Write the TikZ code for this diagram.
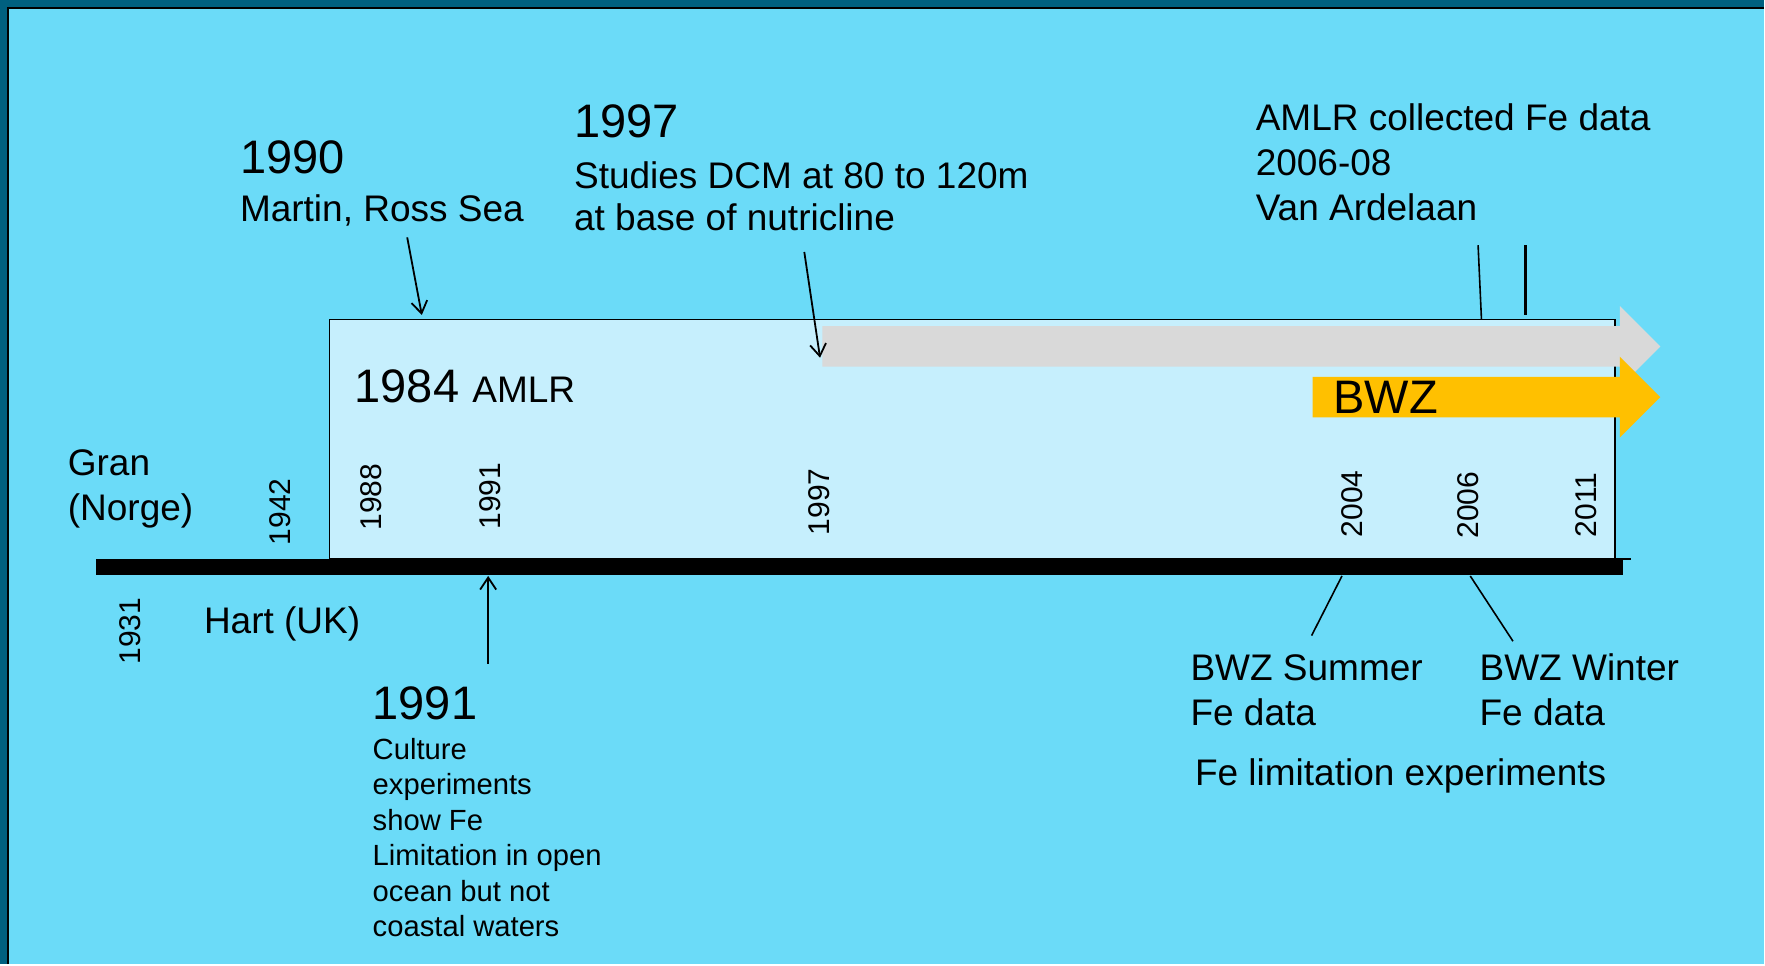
\documentclass[tikz,border=0pt]{standalone}
\usepackage{fontspec}
\setmainfont{Liberation Sans}
\usetikzlibrary{arrows.meta}

\definecolor{framedark}{HTML}{006080}
\definecolor{sky}{HTML}{6BDBF8}
\definecolor{boxblue}{HTML}{C6EFFD}
\definecolor{arrowgray}{HTML}{D9D9D9}
\definecolor{bwzorange}{HTML}{FFC000}

\newcommand{\bigsize}{\fontsize{23.5}{28}\selectfont}
\newcommand{\bodysize}{\fontsize{18.5}{22.5}\selectfont}

\begin{document}
\begin{tikzpicture}[x=0.5625pt, y=-0.5625pt,
    headline/.style={anchor=north west, inner sep=0pt, font=\bigsize},
    body/.style={anchor=north west, inner sep=0pt, align=left, font=\bodysize},
    note/.style={anchor=north west, inner sep=0pt, align=left, font=\fontsize{14.6}{17.7}\selectfont},
    tick/.style={rotate=90, inner sep=0pt, font=\fontsize{15}{18}\selectfont},
    pointer/.style={line width=0.9pt, -{Straight Barb[length=6pt,width=8pt]}},
    leader/.style={line width=0.8pt}]

    % Frame
    \fill[framedark] (0,0) rectangle (1568,857);
    \fill[sky] (7,7) rectangle (1568,857);
    \draw[line width=1.2pt] (7,857) -- (7,7) -- (1568,7);
    \useasboundingbox (0,0) rectangle (1568,857);

    % AMLR period box and timeline
    \filldraw[fill=boxblue, draw=black, line width=0.9pt] (293,284) rectangle (1436,497);
    \draw[line width=0.9pt] (1436,497) -- (1450,497);
    \fill[black] (85,497) rectangle (1443,511);

    % Wide arrows
    \fill[arrowgray] (731,290) -- (1440,290) -- (1440,272) -- (1476,308) -- (1440,344) -- (1440,326) -- (731,326) -- cycle;
    \fill[bwzorange] (1167,335) -- (1440,335) -- (1440,317) -- (1476,353) -- (1440,389) -- (1440,371) -- (1167,371) -- cycle;
    \node[anchor=base west, inner sep=0pt, font=\bigsize] (bwz) at (1185,368) {BWZ};
    \node[anchor=base west, inner sep=0pt, font=\bigsize] (amlr) at (315,358) {1984 {\bodysize AMLR}};

    % Years on the timeline
    \node[tick] (y1931) at (116,561) {1931};
    \node[tick] (y1942) at (249,455) {1942};
    \node[tick] (y1988) at (330,442) {1988};
    \node[tick] (y1991) at (436,441) {1991};
    \node[tick] (y1997) at (728,446) {1997};
    \node[tick] (y2004) at (1202,448) {2004};
    \node[tick] (y2006) at (1305,449) {2006};
    \node[tick] (y2011) at (1410,449) {2011};

    % Labels above
    \node[headline] (h1990) at (213,125) {1990};
    \node[body] (martin) at (213,173) {Martin, Ross Sea};
    \node[headline] (h1997) at (510,93) {1997};
    \node[body, font=\fontsize{18.5}{21.4}\selectfont] (dcm) at (510,143) {Studies DCM at 80 to 120m\\at base of nutricline};
    \node[body] (fedata) at (1116,92) {AMLR collected Fe data\\2006-08\\Van Ardelaan};
    \node[body] (gran) at (60,399) {Gran\\(Norge)};

    % Labels below
    \node[body] (hart) at (181,539) {Hart (UK)};
    \node[headline] (h1991) at (331,610) {1991};
    \node[note] (culture) at (331,656) {Culture\\experiments\\show Fe\\Limitation in open\\ocean but not\\coastal waters};
    \node[body] (summer) at (1058,582) {BWZ Summer\\Fe data};
    \node[body] (winter) at (1315,581) {BWZ Winter\\Fe data};
    \node[body] (felim) at (1062,674) {Fe limitation experiments};

    % Connector ends
    \coordinate (martinfoot) at (362,211);
    \coordinate (boxtop) at (375,280);
    \coordinate (dcmfoot) at (715,224);
    \coordinate (graystart) at (729,318);
    \coordinate (culturetop) at (434,590);
    \coordinate (bar1991) at (434,512);
    \coordinate (bar2004) at (1193,512);
    \coordinate (summertop) at (1166,565);
    \coordinate (bar2006) at (1307,512);
    \coordinate (wintertop) at (1345,570);
    \coordinate (fefoot1) at (1314,218);
    \coordinate (febox1) at (1317,284);
    \coordinate (fefoot2) at (1356,218);
    \coordinate (febox2) at (1356,280);

    % Connectors
    \draw[pointer] (martinfoot) -- (boxtop);
    \draw[pointer] (dcmfoot) -- (graystart);
    \draw[pointer] (culturetop) -- (bar1991);
    \draw[leader] (bar2004) -- (summertop);
    \draw[leader] (bar2006) -- (wintertop);
    \draw[leader] (fefoot1) -- (febox1);
    \draw[leader, line width=1.3pt] (fefoot2) -- (febox2);
\end{tikzpicture}
\end{document}
